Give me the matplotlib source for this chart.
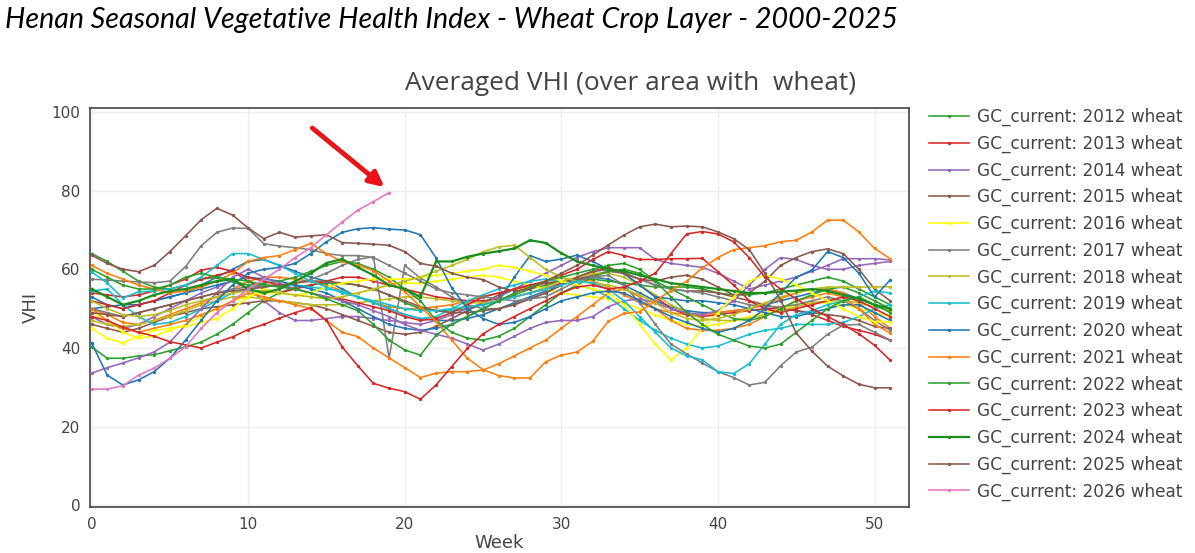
import matplotlib
matplotlib.use("Agg")
import matplotlib.pyplot as plt

# ---------------- data ----------------
weeks = list(range(52))

vhi_2000 = [50, 50.5, 51, 51, 52, 53, 54, 56, 58, 60, 62, 62.5, 61, 59.5, 58, 57, 55, 53, 51.5, 50, 48.5, 47.5, 47, 47, 47.5, 48.5, 50, 51.5, 53, 54.5, 56, 57.5, 58, 57.5, 56, 54, 52, 50.5, 49.5, 49, 49, 49.5, 50, 51, 52, 53, 54, 55, 54, 52.5, 51, 50]
vhi_2001 = [50, 48.5, 46.5, 46, 47, 48.5, 50, 51.5, 53, 55, 57, 58, 58, 57.5, 57, 56, 54.5, 53, 51.5, 50.5, 50, 50, 50.5, 51, 52, 53, 54, 55, 55.5, 56.5, 57, 57.5, 57, 55.5, 53.5, 51.5, 50, 49, 48.5, 48.5, 49, 49.5, 50, 51, 52.5, 54, 55, 55, 54, 51.5, 48, 45]
vhi_2002 = [40.3, 37.4, 37.4, 38, 38.3, 39.3, 40.3, 41.5, 43.5, 46, 49, 52, 54, 55.5, 56, 56.5, 56.5, 56, 55, 53.5, 51.5, 50, 49.5, 49.5, 50, 51, 52, 53.5, 55, 56, 57, 57.5, 57.5, 57, 56.5, 56, 55.5, 55.5, 55.5, 55, 54, 53.5, 53.5, 54, 55, 56, 57, 58, 57, 55, 53, 51]
vhi_2003 = [54, 53.5, 53, 53.5, 54.5, 56, 57.5, 59.8, 60.5, 59.5, 57, 55, 54, 55, 56, 57, 58, 58, 57, 56, 55, 54, 53, 52.5, 52, 52, 52.5, 53, 54, 55, 56.5, 58, 59.5, 60.5, 59, 56, 53, 50, 48.5, 48, 48.5, 49, 49.5, 50, 50, 49.5, 48.5, 47, 45.5, 44.5, 43.5, 42]
vhi_2004 = [48, 46, 45, 46, 48, 50, 52, 54, 55.5, 57, 55, 52, 49, 47, 47, 47.5, 48, 48, 47.5, 47, 46.5, 46, 47, 48.5, 50, 51.5, 53, 55, 57, 59, 61, 63, 64.5, 65.5, 65.5, 65.5, 62.5, 61.5, 61, 60.5, 59, 57, 55, 56, 57, 58, 59.5, 61, 62.7, 62.7, 62.7, 62.4]
vhi_2005 = [46, 45, 44, 45, 46.5, 48, 49, 50, 50.5, 51, 51.5, 52, 52, 51.5, 51, 50, 48.5, 47, 45.5, 44, 43.5, 44, 45.5, 47.5, 49.5, 51.5, 53.5, 55, 56, 56.5, 57, 57.5, 58.5, 59.5, 59, 57.5, 56, 55, 54.5, 54.5, 54, 53, 52, 51, 50, 49.5, 49, 48.5, 48, 47, 45.5, 45]
vhi_2006 = [49, 47, 44, 42.5, 43, 44.5, 46, 48, 50, 52, 53, 54, 54, 53.5, 53, 52.5, 53, 54, 55, 56, 56.5, 56.5, 57, 57.5, 58, 58.5, 58, 57, 56, 55, 54, 53.5, 53, 52.5, 51.5, 50, 48.5, 47, 46, 45.5, 46, 47, 48, 49, 50, 51, 51.5, 51.5, 51, 50, 49, 48]
vhi_2007 = [50, 49, 48, 49, 50, 51, 52, 53, 54, 55, 55.5, 56, 56, 56.5, 57.5, 59, 61, 62.5, 63.2, 37.4, 61, 57.8, 55.5, 53, 51, 50, 50, 51, 52.5, 54, 56, 58, 59.5, 60, 59, 57.5, 56, 55, 54.5, 54, 53, 52, 51, 50.5, 50.5, 51, 52, 53, 52, 50, 47, 44.5]
vhi_2008 = [47, 46, 45.5, 46, 47, 48, 49.5, 51, 52, 53, 53, 52.5, 52, 51.5, 51, 51, 51, 51.5, 52, 52.5, 53, 53, 52.5, 52, 51.5, 51.5, 52, 53, 54, 55.5, 57, 58, 59, 59, 58, 56, 53.5, 51, 49, 47.5, 47, 47, 47.5, 48.5, 49.5, 50.5, 51.5, 52, 52, 51.5, 50.5, 49.5]
vhi_2009 = [54.5, 55, 51, 48, 46, 46.5, 48, 50, 52, 54, 55, 55.5, 56, 56, 55.5, 55, 54.5, 53, 51.5, 50, 48.5, 47.5, 48, 50, 52, 53.5, 55, 56, 57, 57.5, 57, 56, 55, 53, 50, 47, 44.5, 42.5, 41, 40, 40.5, 42, 43.5, 44.5, 45, 46, 46, 46, 46.5, 48, 50, 51]
vhi_2010 = [53, 51, 50, 51, 52, 53, 54, 55, 56, 57, 58, 57.5, 57, 56, 55, 54, 52, 50, 48, 46, 45, 44.5, 45, 46, 48, 50, 52, 58, 63.5, 62, 62.6, 63.6, 62, 60, 59, 56, 53, 52.5, 52, 52, 51.5, 51, 50, 49, 48, 48, 49, 50, 51, 51, 49, 47]
vhi_2011 = [50, 47, 45, 44, 45, 46, 47, 48.5, 50, 52, 54, 53, 52, 51, 50, 47, 44, 42.9, 40, 37.5, 35, 32.5, 33.6, 34, 34, 34.4, 36, 38, 40, 42, 45, 48, 51, 54, 55, 53, 50, 47, 45, 44.5, 44.5, 45, 46, 48, 50, 52, 53, 54, 53, 50, 46, 43.8]
vhi_2012 = [64, 62, 59.5, 57, 55.5, 55, 56, 57.5, 58, 57, 56, 56.5, 57, 58, 59.5, 61, 62, 61.5, 60, 58, 55, 52, 47, 44, 42.5, 42, 43, 45, 48, 51, 54, 56, 58, 59.5, 60, 59, 57, 55, 53, 51, 49, 47.5, 47, 48, 50, 52, 53.5, 55, 55.5, 54, 52, 50]
vhi_2013 = [52, 51, 50, 51, 52, 54, 56, 57.5, 58.5, 59.5, 58, 57, 56, 55, 54, 53, 52.5, 51.5, 50.5, 49.5, 48, 47, 47.5, 49, 51, 53, 54, 55, 56, 57, 58.5, 60, 62.5, 64.5, 63.5, 62.5, 62.5, 62.7, 62.7, 62.8, 59.4, 56, 52, 50, 49, 50, 51, 52, 53, 52, 50, 48]
vhi_2014 = [33.6, 35, 36.2, 37.5, 39, 41.5, 45.8, 50, 54, 58, 60, 58, 56.5, 55, 54, 53, 52, 51, 49.5, 48, 46, 44.5, 43.5, 42.5, 41, 39.5, 41, 43, 45, 46.5, 47, 47, 48, 50.5, 52, 52.5, 51.5, 50, 49, 48.5, 49.5, 52, 56, 60, 63, 62.5, 61, 60, 60, 61, 61.5, 62]
vhi_2015 = [49, 48.5, 48, 49, 50, 51, 52, 53, 54, 54.5, 55, 55.5, 56, 56.5, 57, 57, 56.5, 56, 55, 53.5, 52, 50.5, 49.5, 49, 49, 49.5, 50, 51, 52.5, 54, 56, 58, 59.5, 60, 59, 57.5, 57, 58, 58.5, 57.5, 55.5, 53.5, 54, 57, 61, 63, 64.5, 65.2, 64, 60, 55, 52]
vhi_2016 = [45, 42.5, 41.3, 43, 44.5, 45, 45.5, 46.5, 47.5, 50, 53, 55, 54, 53.5, 54, 55.5, 56.5, 57, 57.5, 57.5, 57.5, 58, 58.5, 59, 59.5, 60, 61, 60.5, 59.5, 58.5, 57, 56, 55, 54, 51, 46, 41, 37, 40, 45, 49, 53, 57, 58.5, 57.5, 56, 54, 52, 50, 48, 46.7, 46.7]
vhi_2017 = [57.5, 57.3, 57, 56.8, 56.6, 57, 60.7, 66, 69.4, 70.5, 70.4, 66.5, 65.9, 65.5, 65, 64, 63.5, 63.5, 63, 61, 59, 57, 55, 54, 53.5, 53, 52.5, 52, 52.5, 53, 55, 57, 58, 58.5, 56, 51.5, 46, 41, 38.5, 36.2, 34, 32.5, 30.6, 31.3, 35.5, 39, 40.2, 43.5, 45.8, 46, 44, 42]
vhi_2018 = [52, 50, 48.5, 48, 48.5, 49.5, 51, 52, 53, 54, 54.5, 54.5, 54, 53.5, 53, 52.5, 53, 54, 55, 56, 57, 58, 59.5, 61, 62.5, 64.5, 65.7, 66.1, 63, 60, 58, 57, 56.5, 56, 55, 53.5, 51.5, 49, 47.5, 47, 47.5, 48.5, 50, 51.5, 53, 54, 55, 55.5, 55.5, 55.5, 55.5, 55.6]
vhi_2019 = [59.4, 56.5, 52.7, 54.3, 54.5, 55, 56, 58, 61, 64, 64, 62.5, 61, 59, 57, 55.5, 54, 53, 52, 51, 50, 49.5, 49.5, 50, 50.5, 51, 52, 53, 54, 55, 56, 57, 56.5, 55, 52, 48, 44, 40, 38, 37, 34, 33.5, 36, 41, 46, 48.5, 49.5, 51, 52, 53, 54.5, 54]
vhi_2020 = [41.3, 33.1, 30.6, 31.9, 34, 37.4, 42, 47, 52, 56, 59, 60, 60.5, 61.5, 64, 67, 69.4, 70.3, 70.6, 70.2, 70, 68.8, 62.9, 55.3, 50, 47.5, 46, 46.5, 48, 50, 52, 53, 54, 54.5, 54, 52, 50, 48, 46.5, 45, 44, 45, 47, 50, 54, 58, 59.8, 64.5, 63, 59, 53, 57.3]
vhi_2021 = [61, 59, 57.5, 56, 55, 54, 54.5, 55.5, 57, 59, 62, 63, 63.5, 65, 66.6, 64, 62, 61, 59.7, 57, 54.3, 50.5, 46.8, 42, 37.4, 34.5, 33, 32.4, 32.4, 36.5, 38.2, 39, 41.7, 46.8, 48.8, 49.2, 52, 54.6, 57, 60.3, 63, 65, 65.5, 66, 67, 67.4, 69.5, 72.5, 72.5, 69.5, 65.3, 62.7]
vhi_2022 = [60, 58, 56, 55, 55, 56, 58, 59, 58, 57.5, 57, 56, 55.5, 55, 54, 52.5, 51, 49.5, 46, 42, 39.5, 38.2, 43.3, 46, 48, 50, 52, 54, 55.5, 57, 58, 59, 60, 61, 61.5, 60, 57, 53, 49, 46, 43.5, 42, 40.5, 40, 41, 44, 47, 50, 52, 53, 51, 49]
vhi_2023 = [48, 47, 45.3, 44, 43, 41.6, 40.8, 40, 41.5, 42.8, 44.7, 46, 47.6, 49, 50.2, 47, 40.3, 35.5, 31, 29.8, 28.9, 27, 30.6, 35.3, 39.9, 43.6, 46, 48, 50, 52, 54, 55.5, 56, 55, 55.5, 57, 59, 64, 69, 69.6, 69, 67, 63, 58, 55, 52.5, 50, 48, 46, 43.6, 40.7, 36.9]
vhi_2024 = [55, 53, 51, 52, 53.5, 54.5, 55, 56, 57, 57.5, 55, 54, 55, 57, 59, 61.6, 62.6, 60.5, 58.5, 56, 55, 53, 62, 62, 63.2, 64, 64.6, 65.3, 67.4, 66.7, 64.1, 62, 61, 60, 59.5, 58.5, 57.5, 56.5, 56, 55.5, 55, 54.5, 54, 54, 54.3, 54.6, 55, 54.5, 53.5, 52.5, 51, 50]
vhi_2025 = [63.6, 61.5, 60, 59.4, 61, 64.5, 68.5, 72.6, 75.5, 73.8, 70.5, 67.8, 69.4, 68.2, 68.5, 68.8, 66.8, 66.6, 66.4, 66.1, 64.5, 61.5, 60.8, 59, 58, 57.4, 55.5, 54.5, 55, 57, 59, 61, 63.6, 66.2, 68.7, 70.8, 71.5, 70.8, 71, 70.8, 69.5, 67.8, 65, 59, 52.2, 43.8, 39.2, 35.4, 32.9, 30.8, 29.9, 29.9]
weeks_2026 = list(range(20))
vhi_2026 = [29.5, 29.6, 30.4, 33.1, 34.9, 37.4, 40.3, 45.0, 49.0, 52.0, 55.0, 57.5, 60.0, 63.0, 65.5, 68.8, 72.0, 75.0, 77.2, 79.5]

years = list(range(2000, 2027))
series = [vhi_2000, vhi_2001, vhi_2002, vhi_2003, vhi_2004, vhi_2005, vhi_2006,
          vhi_2007, vhi_2008, vhi_2009, vhi_2010, vhi_2011, vhi_2012, vhi_2013,
          vhi_2014, vhi_2015, vhi_2016, vhi_2017, vhi_2018, vhi_2019, vhi_2020,
          vhi_2021, vhi_2022, vhi_2023, vhi_2024, vhi_2025, vhi_2026]

cycle = ['#1f77b4', '#ff7f0e', '#2ca02c', '#d62728', '#9467bd',
         '#8c564b', '#ffff00', '#7f7f7f', '#bcbd22', '#17becf']
colors = {y: cycle[(y - 2000) % 10] for y in years}
colors[2024] = '#1b8f1b'
colors[2026] = '#e377c2'

x_ticks = [0, 10, 20, 30, 40, 50]
y_ticks = [0, 20, 40, 60, 80, 100]

title_text = "Henan Seasonal Vegetative Health Index - Wheat Crop Layer - 2000-2025"
subtitle_text = "Averaged VHI (over area with  wheat)"

# ---------------- figure ----------------
W, H = 1195, 553
fig = plt.figure(figsize=(W / 100, H / 100), dpi=100)
fig.patch.set_facecolor('white')
ax = fig.add_axes([90 / W, 1 - 507 / H, (909 - 90) / W, (507 - 108) / H])

handles = []
for yr, vals in zip(years, series):
    xs = weeks_2026 if yr == 2026 else weeks
    lw = 1.6 if yr == 2024 else 1.15
    ln, = ax.plot(xs, vals, color=colors[yr], lw=lw, marker='o', ms=2.4,
                  mew=0, label=f"GC_current: {yr} wheat", zorder=3)
    if yr >= 2012:
        handles.append(ln)

ax.set_xlim(-0.1, 52.2)
ax.set_ylim(-0.4, 101)
ax.set_xticks(x_ticks)
ax.set_yticks(y_ticks)
ax.grid(True, color='#eeeeee', lw=1, zorder=0)
ax.tick_params(length=0, labelsize=11, labelcolor='#444444', pad=7)
for s in ax.spines.values():
    s.set_color('#444444')
    s.set_linewidth(1.2)
ax.set_xlabel("Week", fontsize=13, color='#444444', labelpad=2)
ax.set_ylabel("VHI", fontsize=13, color='#444444', labelpad=8)

# red arrow pointing at the latest value
ax.annotate('', xy=(weeks_2026[-1] - 0.3, vhi_2026[-1] + 1.4),
            xytext=(weeks_2026[-1] - 4.9, vhi_2026[-1] + 16.4),
            arrowprops=dict(arrowstyle='-|>', color='#e8141a', lw=3.5,
                            mutation_scale=22, shrinkA=0, shrinkB=0), zorder=5)

leg = fig.legend(handles=handles, loc='upper left',
                 bbox_to_anchor=(929 / W, 1 - 108 / H), frameon=False,
                 fontsize=12.2, handlelength=2.37, handletextpad=0.47,
                 labelspacing=0.5, borderpad=0, borderaxespad=0,
                 numpoints=1, labelcolor='#444444')

t1 = fig.text(5 / W, 1 - 20 / H, title_text, fontsize=18, style='italic',
              family='Lato', color='black', ha='left', va='center')
t2 = fig.text(631 / W, 1 - 83 / H, subtitle_text, fontsize=15,
              family='Open Sans', color='#444444', ha='center', va='center')

fig.canvas.draw()
r = fig.canvas.get_renderer()
for t, target in ((t1, 892), (t2, 452)):
    w = t.get_window_extent(r).width
    t.set_fontsize(t.get_fontsize() * target / w)

fig.savefig("out.png", dpi=100, facecolor='white')
